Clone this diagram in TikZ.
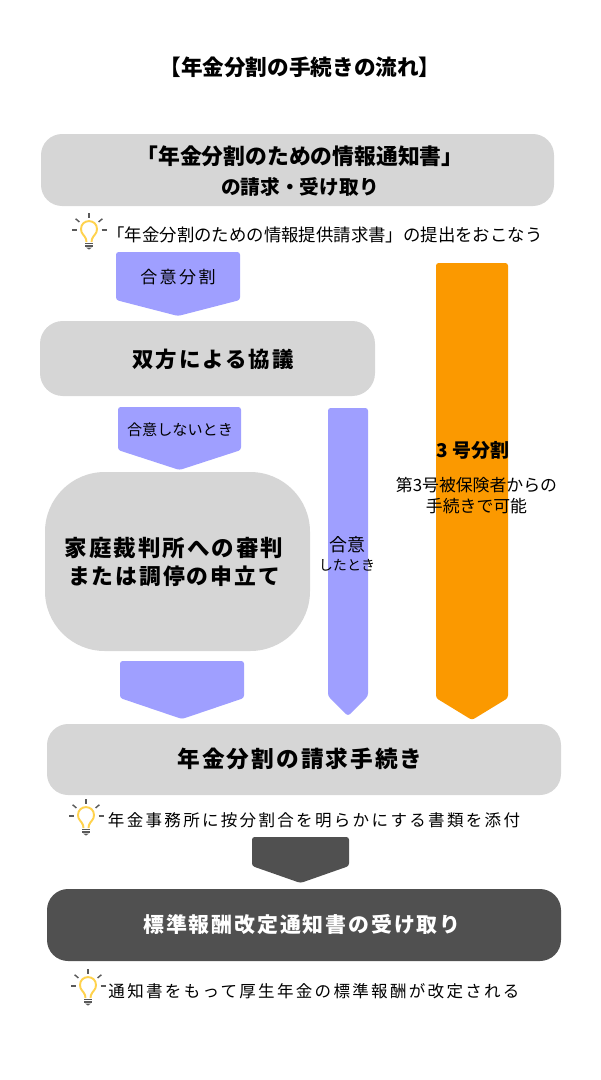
\documentclass[tikz,border=0pt]{standalone}
\usepackage{fontspec}
\setmainfont{Noto Sans CJK JP}
\usepackage{tikz}
\definecolor{boxgrey}{HTML}{D6D6D6}
\definecolor{boxdark}{HTML}{505050}
\definecolor{tagblue}{HTML}{9F9FFF}
\definecolor{tagorange}{HTML}{FB9900}
\definecolor{bulbyellow}{HTML}{FFD24D}
\definecolor{bulbgrey}{HTML}{595959}
\tikzset{
	greybox/.style={fill=boxgrey, draw=none},
	darkbox/.style={fill=boxdark, draw=none},
	headtext/.style={font=\fontsize{#1}{#1}\selectfont\bfseries, align=center, inner sep=0},
	bodytext/.style={font=\fontsize{#1}{#1}\selectfont, align=center, inner sep=0},
	spaced/.style={font=\fontsize{#1}{#1}\selectfont\addfontfeature{LetterSpace=14}, align=center, inner sep=0},
	headspaced/.style={font=\fontsize{#1}{#1}\selectfont\bfseries\addfontfeature{LetterSpace=9}, align=center, inner sep=0}
}
\def\tagarrow[#1](#2,#3)(#4,#5)(#6){\draw[#1, rounded corners=1.5pt] (#2, #3) -- (#4, #3) -- (#4, #5) -- ({(#2+#4)/2}, #6) -- (#2, #5) -- cycle;}
\def\bulb(#1,#2){
	\begin{scope}[shift={(#1, #2)}]
		\draw[line width=1.1pt, color=bulbyellow] (-2.5, 8) -- (-3, 5) .. controls (-4.5, 1) and (-8, 0) .. (-8, -5) .. controls (-8, -15.5) and (8, -15.5) .. (8, -5) .. controls (8, 0) and (4.5, 1) .. (3, 5) -- (2.5, 8);
		\draw[line width=0.8pt, color=bulbgrey] (-4, 9.5) -- (4, 9.5);
		\draw[line width=0.8pt, color=bulbgrey] (-4, 12) -- (4, 12);
		\draw[fill=bulbgrey, draw=none] (-3, 13.5) -- (3, 13.5) -- (0, 15.5) -- cycle;
		\foreach \a in {0, 40, 90, 140, 180}
			\draw[line width=0.8pt, color=bulbgrey] ({12.5*cos(\a)}, {-4-12.5*sin(\a)}) -- ({17.5*cos(\a)}, {-4-17.5*sin(\a)});
	\end{scope}
}

\begin{document}
\begin{tikzpicture}[x=0.02cm, y=-0.02cm]
	\useasboundingbox (0, 0) rectangle (600, 1080);

	\node[headtext=12.3] (title) at (300, 67) {【年金分割の手続きの流れ】};

	% grey boxes
	\draw[greybox, rounded corners=12pt] (41, 134) rectangle (554, 206);
	\node[headtext=12.4] (request) at (300, 171) {「年金分割のための情報通知書」\\[5pt]{\fontsize{11.2}{11.2}\selectfont の請求・受け取り}};

	\bulb(89, 234)
	\node[bodytext=9.9] (submit) at (325, 235) {「年金分割のための情報提供請求書」の提出をおこなう};

	\tagarrow[fill=tagblue, draw=none](116, 252)(240, 300)(316)
	\node[spaced=9.7] (agreedsplit) at (178, 277) {合意分割};

	\draw[greybox, rounded corners=13pt] (40, 321) rectangle (375, 396);
	\node[headspaced=12.2] (talks) at (213, 359) {双方による協議};

	\tagarrow[fill=tagblue, draw=none](118, 407)(241, 450)(470)
	\node[bodytext=8.6] (noagree) at (180, 430) {合意しないとき};

	\draw[greybox, rounded corners=34pt] (45, 472) rectangle (310, 651);
	\node[headspaced=12.8] (court) at (174, 562) {家庭裁判所への審判\\[3pt]{\fontsize{12.4}{12.4}\selectfont または調停の申立て}};

	\tagarrow[fill=tagblue, draw=none](120, 661)(244, 698)(719)

	\tagarrow[fill=tagblue, draw=none](328, 408)(368, 696)(716)
	\node[bodytext=8] (agreed) at (347, 554) {{\fontsize{10.2}{10.2}\selectfont 合意}\\[3pt]したとき};

	\tagarrow[fill=tagorange, draw=none](436, 263)(508, 698)(720)
	\node[headtext=10.8] (thirdsplit) at (473, 450) {3 号分割};
	\node[bodytext=9.6] (thirdnote) at (476.5, 495.5) {第3号被保険者からの\\[2pt]手続きで可能};

	\draw[greybox, rounded corners=12pt] (47, 724) rectangle (561, 795);
	\node[headspaced=12.9] (claim) at (300, 759) {年金分割の請求手続き};

	\bulb(86, 820)
	\node[spaced=9.4] (attach) at (314, 820) {年金事務所に按分割合を明らかにする書類を添付};

	\tagarrow[fill=boxdark, draw=none](252, 837)(349, 866)(883)

	\draw[darkbox, rounded corners=12pt] (47, 889) rectangle (561, 961);
	\node[headspaced=11.9, text=white] (notice) at (302, 925) {標準報酬改定通知書の受け取り};

	\bulb(88, 990)
	\node[spaced=9.4] (revised) at (314, 991) {通知書をもって厚生年金の標準報酬が改定される};
\end{tikzpicture}
\end{document}
